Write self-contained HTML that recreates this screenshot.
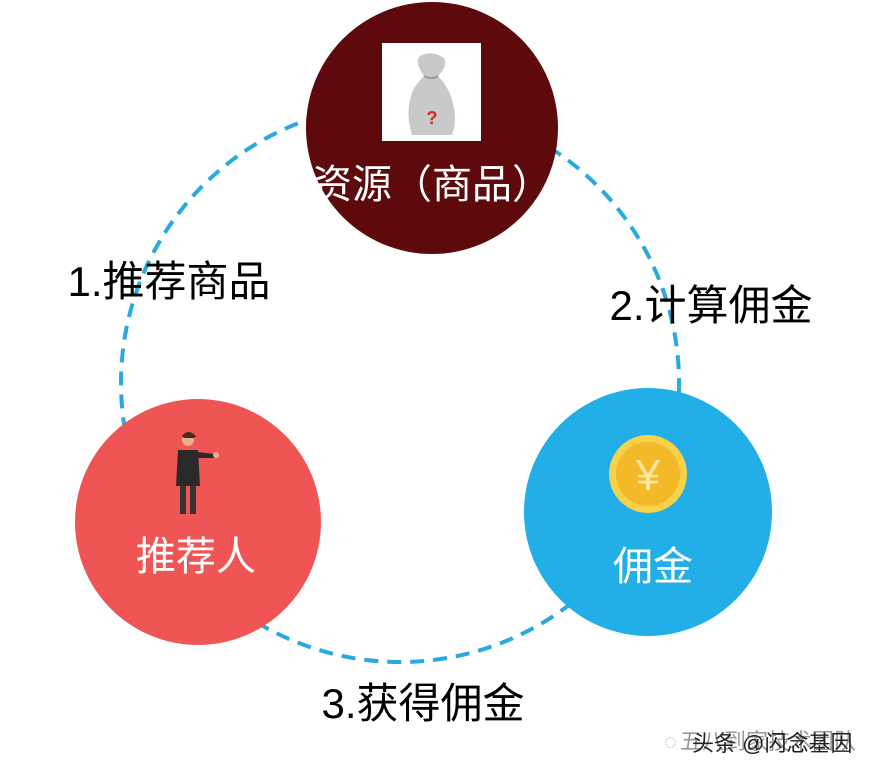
<!DOCTYPE html>
<html><head><meta charset="utf-8"><style>
html,body{margin:0;padding:0;background:#fff;}
svg{display:block;}
text{font-family:"Liberation Sans","Noto Sans CJK SC",sans-serif;}
</style></head><body>
<svg width="872" height="772" viewBox="0 0 872 772" xmlns="http://www.w3.org/2000/svg">
<rect width="872" height="772" fill="#fff"/>
<circle cx="400" cy="383" r="279" fill="none" stroke="#2aa9de" stroke-width="4" stroke-dasharray="14 9"/>
<circle cx="432" cy="128" r="126" fill="#5e0a0c"/>
<rect x="382" y="43" width="99" height="98" fill="#fff"/>
<path d="M412 135 Q404 110 414 88 Q420 80 424 76 Q414 62 420 56 Q432 50 444 58 Q448 66 438 76 Q448 86 452 100 Q458 120 452 135 Z" fill="#c9c9c9"/>
<path d="M424 76 Q432 80 438 76" stroke="#999" stroke-width="2" fill="none"/>
<text x="432" y="124" font-size="18" font-weight="bold" fill="#d22" text-anchor="middle">?</text>
<text x="432" y="198" font-size="40" fill="#fff" text-anchor="middle">资源（商品）</text>
<circle cx="198" cy="522" r="123" fill="#f05555"/>
<g>
<circle cx="188" cy="440" r="6" fill="#e8b08a"/>
<path d="M182 436 Q188 428 196 436 L194 438 L184 438Z" fill="#4a2a1a"/>
<path d="M178 450 L198 450 L200 486 L176 486 Z" fill="#2a2a2a"/>
<path d="M198 452 L214 454 L214 458 L198 458Z" fill="#2a2a2a"/>
<circle cx="216" cy="455" r="3" fill="#e8b08a"/>
<path d="M180 486 L186 486 L186 514 L180 514Z M190 486 L196 486 L196 514 L190 514Z" fill="#333"/>
</g>
<text x="196" y="570" font-size="40" fill="#fff" text-anchor="middle">推荐人</text>
<circle cx="648" cy="512" r="124" fill="#22aee6"/>
<circle cx="648" cy="474" r="39" fill="#f7d24a"/>
<circle cx="648" cy="474" r="32" fill="#f3b928"/>
<text x="648" y="490" font-size="44" fill="#fde6a0" text-anchor="middle">¥</text>
<text x="653" y="580" font-size="40" fill="#fff" text-anchor="middle">佣金</text>
<text x="169" y="296" font-size="42" fill="#000" text-anchor="middle">1.推荐商品</text>
<text x="711" y="320" font-size="42" fill="#000" text-anchor="middle">2.计算佣金</text>
<text x="423" y="718" font-size="42" fill="#000" text-anchor="middle">3.获得佣金</text>
<text x="664" y="749" font-size="22" fill="#bbb">◌</text>
<text x="680" y="749" font-size="22" fill="#999">五八到家技术团队</text>
<text x="692" y="751" font-size="22" fill="#222">头条 @闪念基因</text>
</svg>
</body></html>
